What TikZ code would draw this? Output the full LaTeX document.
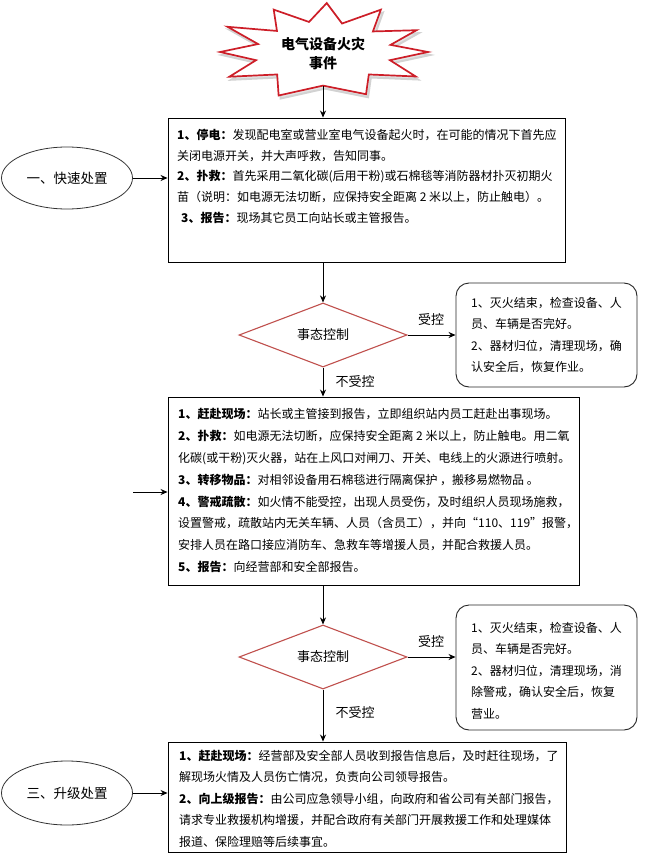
\documentclass[tikz,border=0pt]{standalone}
\usepackage{fontspec}
\newfontfamily\cjk{Noto Sans CJK SC}
\usetikzlibrary{shapes.geometric,arrows.meta,calc}
\definecolor{dred}{RGB}{192,80,77}
\definecolor{sred}{RGB}{205,30,40}
\tikzset{
  box/.style={draw=black, line width=0.9pt, rectangle, inner sep=0pt},
  rbox/.style={draw=black!85, line width=0.9pt, rectangle, rounded corners=13pt, inner sep=0pt},
  dia/.style={draw=dred, line width=1.1pt, diamond, inner sep=0pt, font=\cjk\fontsize{13}{15}\selectfont},
  ell/.style={draw=black!80, line width=0.8pt, ellipse, inner sep=0pt, font=\cjk\fontsize{13.5}{15}\selectfont},
  txt/.style={inner sep=0pt, anchor=north west, align=left},
  lab/.style={inner sep=0pt, font=\cjk\fontsize{13}{15}\selectfont},
  arr/.style={draw=black, line width=0.8pt, -{Stealth[length=7pt,width=6pt]}},
}
\newcommand{\hd}[1]{{\bfseries #1}}
\begin{document}
\begin{tikzpicture}[x=1pt,y=-1pt]
\useasboundingbox[fill=white] (0,0) rectangle (649,856);

% star
\draw[gray!35, line width=2pt, fill=gray!20, shift={(2,3)}] (428,52)
  \foreach \a/\f in {15/0.66,30/1.02,47/0.64,65/0.97,90/0.7,115/1.0,133/0.64,150/1.03,165/0.66,180/0.98,195/0.64,210/1.05,225/0.62,242/1.0,258/0.64,272/1.02,287/0.62,302/1.04,318/0.64,333/1.0,347/0.66}
  { -- ({323+105*\f*cos(\a)},{52+48*\f*sin(\a)}) } -- cycle;
\draw[sred, line width=1.7pt, fill=white, line join=miter] (428,52)
  \foreach \a/\f in {15/0.66,30/1.02,47/0.64,65/0.97,90/0.7,115/1.0,133/0.64,150/1.03,165/0.66,180/0.98,195/0.64,210/1.05,225/0.62,242/1.0,258/0.64,272/1.02,287/0.62,302/1.04,318/0.64,333/1.0,347/0.66}
  { -- ({323+105*\f*cos(\a)},{52+48*\f*sin(\a)}) } -- cycle;
\node[inner sep=0pt, align=center, font=\cjk\bfseries\fontsize{14}{19}\selectfont] (star) at (323,54) {电气设备火灾\\事件};
\coordinate (starbot) at (323,86);

% box 1
\node[box, minimum width=397pt, minimum height=144pt] (b1) at (366.5,190) {};
\node[txt, font=\cjk\fontsize{12}{20.7}\selectfont] (t1) at (177,129) {%
\hd{1、停电：}发现配电室或营业室电气设备起火时，在可能的情况下首先应\\
关闭电源开关，并大声呼救，告知同事。\\
\hd{2、扑救：}首先采用二氧化碳(后用干粉)或石棉毯等消防器材扑灭初期火\\
苗（说明：如电源无法切断，应保持安全距离 2 米以上，防止触电）。\\
\hspace{4pt}\hd{3、报告：}现场其它员工向站长或主管报告。};

\node[ell, minimum width=131pt, minimum height=62pt] (e1) at (67,178) {一、快速处置};

% decision 1
\node[dia, minimum width=168pt, minimum height=64pt] (d1) at (323,335) {事态控制};
\node[rbox, minimum width=181pt, minimum height=104pt] (r1) at (546.5,335) {};
\node[txt, font=\cjk\fontsize{12}{21.5}\selectfont] (rt1) at (471,297) {%
1、灭火结束，检查设备、人\\
员、车辆是否完好。\\
2、器材归位，清理现场，确\\
认安全后，恢复作业。};
\node[lab] (l1) at (431,320) {受控};
\node[lab] (l2) at (355,382) {不受控};

% box 2
\node[box, minimum width=411pt, minimum height=188pt] (b2) at (373.5,491) {};
\node[txt, font=\cjk\fontsize{12}{21.9}\selectfont] (t2) at (178,408) {%
\hd{1、赶赴现场：}站长或主管接到报告，立即组织站内员工赶赴出事现场。\\
\hd{2、扑救：}如电源无法切断，应保持安全距离 2 米以上，防止触电。用二氧\\
化碳(或干粉)灭火器，站在上风口对闸刀、开关、电线上的火源进行喷射。\\
\hd{3、转移物品：}对相邻设备用石棉毯进行隔离保护 ，搬移易燃物品 。\\
\hd{4、警戒疏散：}如火情不能受控，出现人员受伤，及时组织人员现场施救，\\
设置警戒，疏散站内无关车辆、人员（含员工），并向“110、119”报警，\\
安排人员在路口接应消防车、急救车等增援人员，并配合救援人员。\\
\hd{5、报告：}向经营部和安全部报告。};
\coordinate (in2) at (133,492);

% decision 2
\node[dia, minimum width=168pt, minimum height=62pt] (d2) at (323,657) {事态控制};
\node[rbox, minimum width=181pt, minimum height=125pt] (r2) at (546.5,667.5) {};
\node[txt, font=\cjk\fontsize{12}{21.5}\selectfont] (rt2) at (471,622) {%
1、灭火结束，检查设备、人\\
员、车辆是否完好。\\
2、器材归位，清理现场，消\\
除警戒，确认安全后，恢复\\
营业。};
\node[lab] (l3) at (431,642) {受控};
\node[lab] (l4) at (355,713) {不受控};

% box 3
\node[box, minimum width=398pt, minimum height=110pt] (b3) at (367,797) {};
\node[txt, font=\cjk\fontsize{12}{21.5}\selectfont] (t3) at (179,750) {%
\hd{1、赶赴现场：}经营部及安全部人员收到报告信息后，及时赶往现场，了\\
解现场火情及人员伤亡情况，负责向公司领导报告。\\
\hd{2、向上级报告：}由公司应急领导小组，向政府和省公司有关部门报告，\\
请求专业救援机构增援，并配合政府有关部门开展救援工作和处理媒体\\
报道、保险理赔等后续事宜。};
\node[ell, minimum width=131pt, minimum height=64pt] (e3) at (67,793) {三、升级处置};

% connectors
\draw[arr] (starbot) -- (starbot |- b1.north);
\draw[arr] (e1.east) -- (e1.east -| b1.west);
\draw[arr] (b1.south -| d1.north) -- (d1.north);
\draw[arr] (d1.east) -- (d1.east -| r1.west);
\draw[arr] (d1.south) -- (d1.south |- b2.north);
\draw[arr] (in2) -- (in2 -| b2.west);
\draw[arr] (b2.south -| d2.north) -- (d2.north);
\draw[arr] (d2.east) -- (d2.east -| r2.west);
\draw[arr] (d2.south) -- (d2.south |- b3.north);
\draw[arr] (e3.east) -- (e3.east -| b3.west);
\end{tikzpicture}
\end{document}
